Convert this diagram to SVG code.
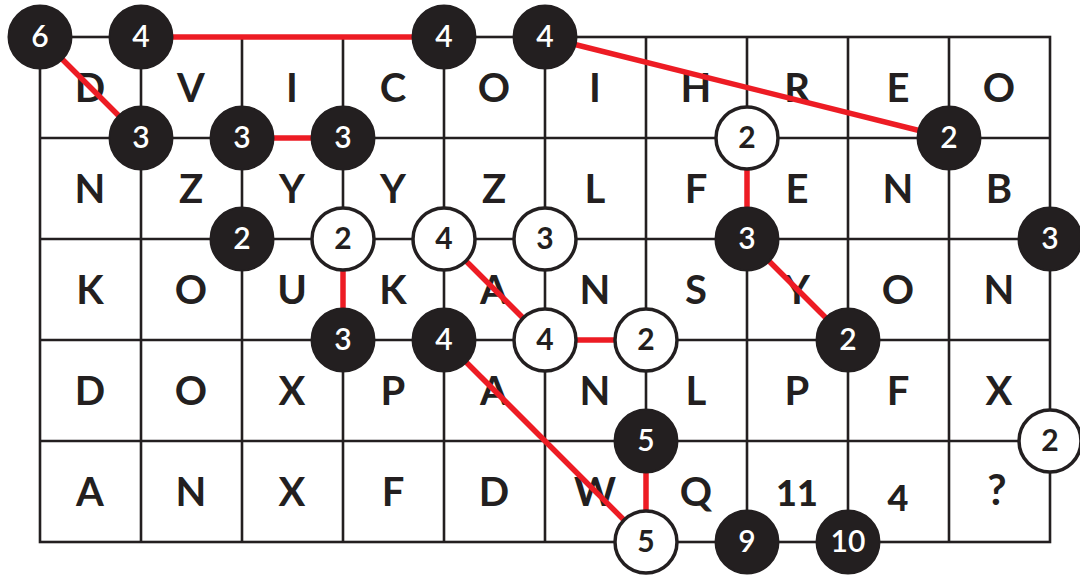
<svg xmlns="http://www.w3.org/2000/svg" width="1080" height="575" viewBox="0 0 1080 575">
<style>
.grid{stroke:#231f20;stroke-width:2.6;fill:none}
.red{stroke:#ed1c24;stroke-width:5.5;fill:none}
.let{font-family:Lato,"Liberation Sans",sans-serif;font-weight:700;font-size:40px;fill:#231f20;text-anchor:middle}
.bk circle{fill:#231f20;stroke:#231f20;stroke-width:2}
.wt circle{fill:#fff;stroke:#231f20;stroke-width:3.5}
.bk text{font-family:Lato,"Liberation Sans",sans-serif;font-weight:600;font-size:30px;fill:#fff;text-anchor:middle}
.wt text{font-family:Lato,"Liberation Sans",sans-serif;font-weight:700;font-size:30px;fill:#231f20;text-anchor:middle}
</style>
<rect width="1080" height="575" fill="#fff"/>
<g id="grid" class="grid">
<rect x="40" y="37" width="1010" height="505"/>
<path d="M141 37V542M242 37V542M343 37V542M444 37V542M545 37V542M646 37V542M747 37V542M848 37V542M949 37V542M40 138H1050M40 239H1050M40 340H1050M40 441H1050"/>
</g>
<g id="letters" class="let">
<text x="90" y="102">D</text><text x="191" y="102">V</text><text x="292" y="102">I</text><text x="393" y="102">C</text><text x="494" y="102">O</text><text x="595" y="102">I</text><text x="696" y="102">H</text><text x="797" y="102">R</text><text x="898" y="102">E</text><text x="999" y="102">O</text>
<text x="90" y="203">N</text><text x="191" y="203">Z</text><text x="292" y="203">Y</text><text x="393" y="203">Y</text><text x="494" y="203">Z</text><text x="595" y="203">L</text><text x="696" y="203">F</text><text x="797" y="203">E</text><text x="898" y="203">N</text><text x="999" y="203">B</text>
<text x="90" y="304">K</text><text x="191" y="304">O</text><text x="292" y="304">U</text><text x="393" y="304">K</text><text x="494" y="304">A</text><text x="595" y="304">N</text><text x="696" y="304">S</text><text x="797" y="304">Y</text><text x="898" y="304">O</text><text x="999" y="304">N</text>
<text x="90" y="405">D</text><text x="191" y="405">O</text><text x="292" y="405">X</text><text x="393" y="405">P</text><text x="494" y="405">A</text><text x="595" y="405">N</text><text x="696" y="405">L</text><text x="797" y="405">P</text><text x="898" y="405">F</text><text x="999" y="405">X</text>
<text x="90" y="506">A</text><text x="191" y="506">N</text><text x="292" y="506">X</text><text x="393" y="506">F</text><text x="494" y="506">D</text><text x="595" y="506">W</text><text x="696" y="506">Q</text><text x="797" y="506" style="font-size:36px;font-weight:900">11</text><text x="898" y="511" style="font-size:36px;font-weight:900">4</text><text x="997" y="505" style="font-size:42px">?</text>
</g>
<g id="connectors" class="red">
<line x1="40" y1="37" x2="141" y2="138"/>
<line x1="141" y1="37" x2="444" y2="37"/>
<line x1="545" y1="37" x2="949" y2="138"/>
<line x1="242" y1="138" x2="343" y2="138"/>
<line x1="747" y1="138" x2="747" y2="239"/>
<line x1="343" y1="239" x2="343" y2="340"/>
<line x1="444" y1="239" x2="545" y2="340"/>
<line x1="545" y1="340" x2="646" y2="340"/>
<line x1="747" y1="239" x2="848" y2="340"/>
<line x1="444" y1="340" x2="646" y2="542"/>
<line x1="646" y1="441" x2="646" y2="542"/>
</g>
<g id="n1" class="bk"><circle cx="40" cy="37" r="31.5"/><text x="40" y="47">6</text></g>
<g id="n2" class="bk"><circle cx="141" cy="37" r="31.5"/><text x="141" y="47">4</text></g>
<g id="n3" class="bk"><circle cx="444" cy="37" r="31.5"/><text x="444" y="47">4</text></g>
<g id="n4" class="bk"><circle cx="545" cy="37" r="31.5"/><text x="545" y="47">4</text></g>
<g id="n5" class="bk"><circle cx="141" cy="138" r="31.5"/><text x="141" y="148">3</text></g>
<g id="n6" class="bk"><circle cx="242" cy="138" r="31.5"/><text x="242" y="148">3</text></g>
<g id="n7" class="bk"><circle cx="343" cy="138" r="31.5"/><text x="343" y="148">3</text></g>
<g id="n8" class="wt"><circle cx="747" cy="138" r="31"/><text x="747" y="148">2</text></g>
<g id="n9" class="bk"><circle cx="949" cy="138" r="31.5"/><text x="949" y="148">2</text></g>
<g id="n10" class="bk"><circle cx="242" cy="239" r="31.5"/><text x="242" y="249">2</text></g>
<g id="n11" class="wt"><circle cx="343" cy="239" r="31"/><text x="343" y="249">2</text></g>
<g id="n12" class="wt"><circle cx="444" cy="239" r="31"/><text x="444" y="249">4</text></g>
<g id="n13" class="wt"><circle cx="545" cy="239" r="31"/><text x="545" y="249">3</text></g>
<g id="n14" class="bk"><circle cx="747" cy="239" r="31.5"/><text x="747" y="249">3</text></g>
<g id="n15" class="bk"><circle cx="1050" cy="239" r="31.5"/><text x="1050" y="249">3</text></g>
<g id="n16" class="bk"><circle cx="343" cy="340" r="31.5"/><text x="343" y="350">3</text></g>
<g id="n17" class="bk"><circle cx="444" cy="340" r="31.5"/><text x="444" y="350">4</text></g>
<g id="n18" class="wt"><circle cx="545" cy="340" r="31"/><text x="545" y="350">4</text></g>
<g id="n19" class="wt"><circle cx="646" cy="340" r="31"/><text x="646" y="350">2</text></g>
<g id="n20" class="bk"><circle cx="848" cy="340" r="31.5"/><text x="848" y="350">2</text></g>
<g id="n21" class="bk"><circle cx="646" cy="441" r="31.5"/><text x="646" y="451">5</text></g>
<g id="n22" class="wt"><circle cx="1050" cy="441" r="31"/><text x="1050" y="451">2</text></g>
<g id="n23" class="wt"><circle cx="646" cy="542" r="31"/><text x="646" y="552">5</text></g>
<g id="n24" class="bk"><circle cx="747" cy="542" r="31.5"/><text x="747" y="552">9</text></g>
<g id="n25" class="bk"><circle cx="848" cy="542" r="31.5"/><text x="848" y="552">10</text></g>
</svg>
